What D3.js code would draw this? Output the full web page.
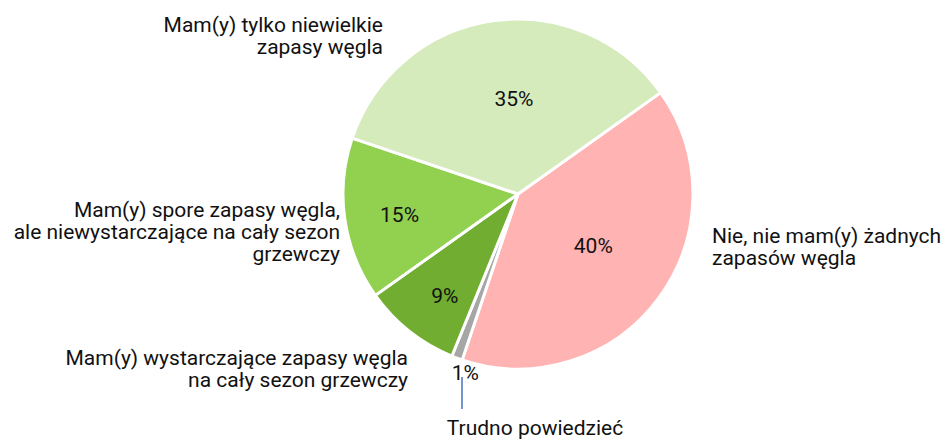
<!DOCTYPE html>
<html>
<head>
<meta charset="utf-8">
<script src="https://cdn.jsdelivr.net/npm/d3@7"></script>
<style>
  body { margin: 0; background: #fff; }
  text { font-family: Roboto, "Noto Sans", sans-serif; fill: #111; }
</style>
</head>
<body>
<div id="chart"></div>
<script>
// answers, in drawing order (clockwise from the 40% slice)
var categories = [
    "Nie, nie mam(y) żadnych zapasów węgla",
    "Trudno powiedzieć",
    "Mam(y) wystarczające zapasy węgla na cały sezon grzewczy",
    "Mam(y) spore zapasy węgla, ale niewystarczające na cały sezon grzewczy",
    "Mam(y) tylko niewielkie zapasy węgla"
];
var values = [40, 1, 9, 15, 35];
var colors = ["#ffb3b3", "#a6a6a6", "#70ad30", "#92d050", "#d5ebbc"];

// outer label lines per slice
var labelLines = [
    ["Nie, nie mam(y) żadnych", "zapasów węgla"],
    ["Trudno powiedzieć"],
    ["Mam(y) wystarczające zapasy węgla", "na cały sezon grzewczy"],
    ["Mam(y) spore zapasy węgla,", "ale niewystarczające na cały sezon", "grzewczy"],
    ["Mam(y) tylko niewielkie", "zapasy węgla"]
];

var width = 947, height = 439;
var cx = 518, cy = 194, radius = 175;

var svg = d3.select("#chart")
    .append("svg")
    .attr("width", width)
    .attr("height", height);

var g = svg.append("g")
    .attr("transform", "translate(" + cx + "," + cy + ")");

var startAngle = 54.6 * Math.PI / 180;

var pie = d3.pie()
    .sort(null)
    .startAngle(startAngle)
    .endAngle(startAngle + 2 * Math.PI);

var arc = d3.arc().innerRadius(0).outerRadius(radius);

var arcs = pie(values);

g.selectAll("path")
    .data(arcs)
    .enter()
    .append("path")
    .attr("d", arc)
    .style("fill", function(d, i) { return colors[i]; })
    .style("stroke", "#fff")
    .style("stroke-width", 3)
    .style("stroke-linejoin", "round");

// percentage labels inside the slices: radius fraction + small nudge
var inner = [0.55, 1.06, 0.72, 0.69, 0.55];
var nudge = [[-2, -6], [12, 5], [5, 3], [1, 3], [10, 0]];
g.selectAll("text.pct")
    .data(arcs)
    .enter()
    .append("text")
    .attr("class", "pct")
    .attr("text-anchor", "middle")
    .attr("dy", "0.35em")
    .style("font-size", "21px")
    .attr("transform", function(d, i) {
        var a = (d.startAngle + d.endAngle) / 2;
        var r = radius * inner[i];
        var x = Math.sin(a) * r + nudge[i][0];
        var y = -Math.cos(a) * r + nudge[i][1];
        return "translate(" + x + "," + y + ")";
    })
    .text(function(d) { return d.value + "%"; });

// outer category labels (anchor x, first baseline, alignment)
var labelPos = [
    { x: 712, y: 243, anchor: "start" },
    { x: 535, y: 435, anchor: "middle" },
    { x: 408, y: 365, anchor: "end" },
    { x: 340, y: 217, anchor: "end" },
    { x: 383, y: 32, anchor: "end" }
];

labelLines.forEach(function(lines, i) {
    var t = svg.append("text")
        .attr("text-anchor", labelPos[i].anchor)
        .style("font-size", "21px");
    lines.forEach(function(line, j) {
        t.append("tspan")
            .attr("x", labelPos[i].x)
            .attr("y", labelPos[i].y + j * 22)
            .text(line);
    });
});

// leader line for the small slice
svg.append("line")
    .attr("x1", 462).attr("x2", 462)
    .attr("y1", 377).attr("y2", 409)
    .style("stroke", "#4472c4")
    .style("stroke-width", 1.5);
</script>
</body>
</html>
